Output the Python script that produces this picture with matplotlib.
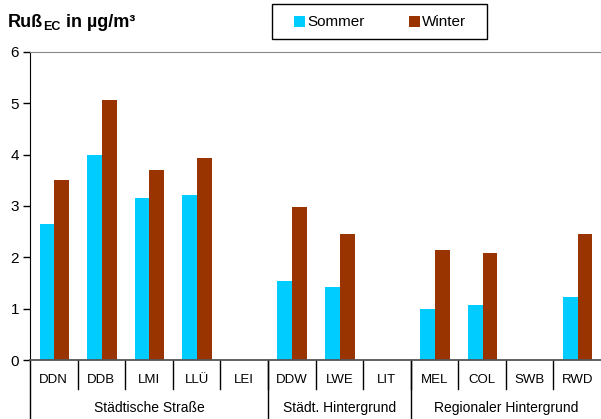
import numpy as np
import matplotlib
matplotlib.use("Agg")
import matplotlib.pyplot as plt
from matplotlib.patches import Rectangle
import matplotlib.transforms as mtransforms

plt.rcParams["font.family"] = ["Liberation Sans", "DejaVu Sans"]

# Messstationen und Gruppen
stationen = ["DDN", "DDB", "LMI", "LLÜ", "LEI", "DDW", "LWE", "LIT", "MEL", "COL", "SWB", "RWD"]
gruppen = ["Städtische Straße", "Städt. Hintergrund", "Regionaler Hintergrund"]
gruppen_anzahl = [5, 3, 4]

# Ruß (EC) in µg/m³, fehlende Werte als NaN
sommer = [2.65, 3.99, 3.16, 3.21, np.nan, 1.54, 1.43, np.nan, 0.99, 1.08, np.nan, 1.22]
winter = [3.51, 5.07, 3.70, 3.93, np.nan, 2.98, 2.45, np.nan, 2.14, 2.08, np.nan, 2.45]

farbe_sommer = "#00CCFF"
farbe_winter = "#993300"

W, H = 601, 419
fig = plt.figure(figsize=(W / 100, H / 100), dpi=100)
ax = fig.add_axes([30 / W, 1 - 360 / H, 571 / W, 308 / H])

x = np.arange(len(stationen))
w = 0.31
ax.bar(x - w / 2 + 0.01, sommer, width=w, color=farbe_sommer, label="Sommer")
ax.bar(x + w / 2 + 0.01, winter, width=w, color=farbe_winter, label="Winter")

ax.set_xlim(-0.5, len(stationen) - 0.5)
ax.set_ylim(0, 6)
ax.set_yticks(range(7))
ax.tick_params(axis="y", direction="out", length=5, width=1, labelsize=11, pad=3)
ax.set_xticks([])

ax.spines["right"].set_visible(False)
ax.spines["left"].set_color("black")
ax.spines["top"].set_color("#888888")
ax.spines["bottom"].set_color("#555555")
ax.spines["bottom"].set_linewidth(1.3)

# Beschriftung unter der Achse: Stationen und Gruppen
trans = mtransforms.blended_transform_factory(ax.transData, ax.transAxes)
for i, name in enumerate(stationen):
    ax.text(i, -0.066, name, transform=trans, ha="center", va="center", fontsize=9.5)
    if i > 0:
        ax.plot([i - 0.5, i - 0.5], [0, -0.094], transform=trans, color="black",
                lw=1, clip_on=False)

start = 0
for name, n in zip(gruppen, gruppen_anzahl):
    ax.plot([start - 0.5, start - 0.5], [0, -0.2], transform=trans, color="black",
            lw=1, clip_on=False)
    ax.text(start - 0.5 + n / 2, -0.155, name, transform=trans, ha="center",
            va="center", fontsize=10)
    start += n

# Titel mit tiefgestelltem EC
fig.canvas.draw()
r = fig.canvas.get_renderer()
inv = fig.transFigure.inverted()
t1 = fig.text(8 / W, 1 - 27 / H, "Ruß", fontsize=13, fontweight="bold", va="baseline")
x1 = inv.transform((t1.get_window_extent(r).x1, 0))[0]
t2 = fig.text(x1, 1 - 29.5 / H, "EC", fontsize=9, fontweight="bold", va="baseline")
x2 = inv.transform((t2.get_window_extent(r).x1, 0))[0]
fig.text(x2, 1 - 27 / H, " in µg/m³", fontsize=13, fontweight="bold", va="baseline")

# Legende als Rahmen mit zwei Einträgen
fig.add_artist(Rectangle((272 / W, 1 - 39 / H), 215 / W, 35 / H, transform=fig.transFigure,
                         facecolor="white", edgecolor="black", lw=1))
for x0, farbe, label in [(294, farbe_sommer, "Sommer"), (409, farbe_winter, "Winter")]:
    fig.add_artist(Rectangle((x0 / W, 1 - 27 / H), 11 / W, 11 / H, transform=fig.transFigure,
                             facecolor=farbe, edgecolor="none"))
    fig.text((x0 + 13) / W, 1 - 21.5 / H, label, fontsize=11, va="center", ha="left")

fig.savefig("out.png", dpi=100)
